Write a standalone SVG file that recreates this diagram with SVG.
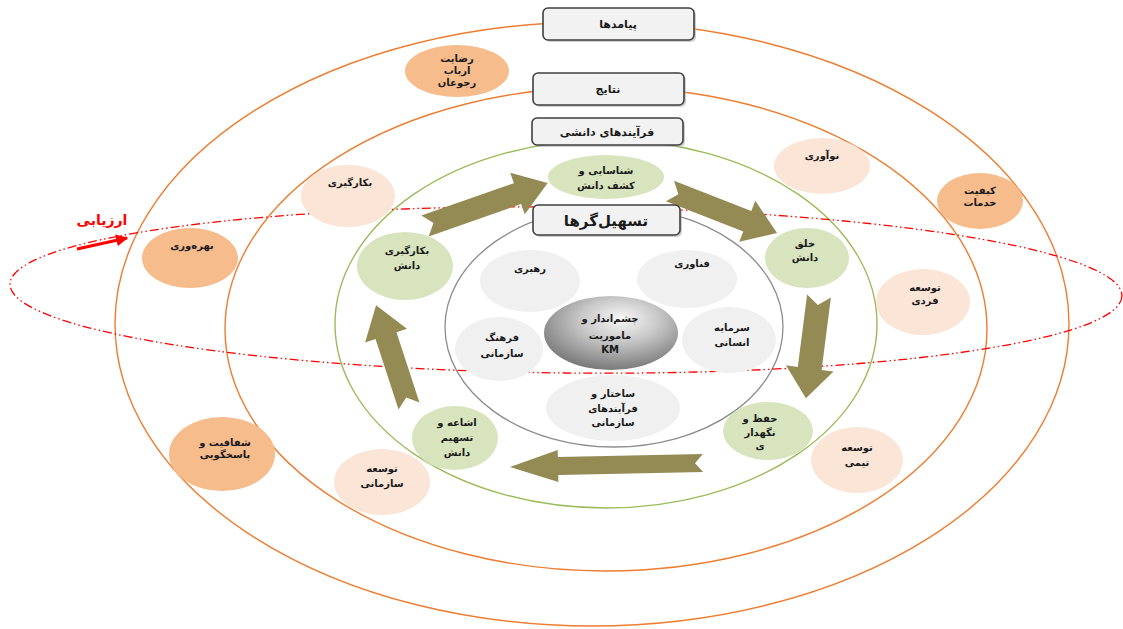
<svg xmlns="http://www.w3.org/2000/svg" width="1123" height="629" viewBox="0 0 1123 629">
<defs>
<style>
.ring-o{fill:none;stroke:#ED7D31;stroke-width:1.4}
.ring-g{fill:none;stroke:#9BBB59;stroke-width:1.4}
.ring-i{fill:none;stroke:#8c8c8c;stroke-width:1.3}
.eval{fill:none;stroke:#FF0000;stroke-width:1.3;stroke-dasharray:9 3 1.5 3 1.5 3}
.box{fill:#F2F2F2;stroke:#3f3f3f;stroke-width:1.6}
.shadow{fill:#b0b0b0;opacity:0.6}
.c-orange{fill:#F6BC8C}
.c-peach{fill:#FBE5D6}
.c-green{fill:#D7E4BD}
.c-gray{fill:#F0F0F0}
.arrow{fill:#948A54}
text{font-family:"DejaVu Sans",sans-serif;font-size:10px;font-weight:bold;fill:#1a1a1a;text-anchor:middle}
.t-box{font-size:11px}
.t-big{font-size:15px}
.t-red{fill:#FF0000;font-size:14px}
</style>
<radialGradient id="kmGrad" cx="0.55" cy="0.35" r="0.65" fx="0.58" fy="0.3">
<stop offset="0" stop-color="#f7f7f7"/>
<stop offset="0.45" stop-color="#c8c8c8"/>
<stop offset="1" stop-color="#7a7a7a"/>
</radialGradient>
<marker id="redHead" viewBox="0 0 10 10" refX="9" refY="5" markerWidth="4" markerHeight="4" orient="auto">
<path d="M0,0 L10,5 L0,10 Z" fill="#FF0000"/>
</marker>
</defs>
<rect width="1123" height="629" fill="#ffffff"/>

<g id="rings">
<ellipse class="ring-o" cx="592" cy="324" rx="477" ry="302"/>
<ellipse class="ring-o" cx="606" cy="329" rx="381" ry="242"/>
<ellipse class="ring-g" cx="606" cy="324" rx="271" ry="184"/>
<ellipse class="ring-i" cx="614" cy="327" rx="169" ry="120"/>
</g>

<g id="evaluation">
<ellipse class="eval" cx="566" cy="290" rx="556" ry="83" transform="rotate(0.6 566 290)"/>
</g>

<g id="connectors">
<path class="arrow" transform="translate(425,226) rotate(-19.3)" d="M0,-11 L98,-11 L98,-22 L130,0 L98,22 L98,11 L0,11 L9,0 Z"/>
<path class="arrow" transform="translate(670,191) rotate(21.4)" d="M0,-11 L83,-11 L83,-22 L115,0 L83,22 L83,11 L0,11 L9,0 Z"/>
<path class="arrow" transform="translate(819,296) rotate(97.3)" d="M0,-12 L73,-12 L73,-24 L103,0 L73,24 L73,12 L0,12 L9,0 Z"/>
<path class="arrow" transform="translate(703,463) rotate(178.8)" d="M0,-9 L145,-9 L145,-16 L193,0 L145,16 L145,9 L0,9 L8,0 Z"/>
<path class="arrow" transform="translate(409,406) rotate(-108.1)" d="M0,-11 L74,-11 L74,-22 L106,0 L74,22 L74,11 L0,11 L9,0 Z"/>
<line x1="77" y1="249" x2="127" y2="238" stroke="#FF0000" stroke-width="3" marker-end="url(#redHead)"/>
</g>

<g id="label-eval"><text class="t-red" x="102" y="225">ارزیابی</text></g>

<g id="box-payamad">
<rect class="shadow" x="545" y="10" width="151" height="32" rx="5"/>
<rect class="box" x="543" y="8" width="151" height="32" rx="5"/>
<text class="t-box" x="618" y="28">پیامدها</text>
</g>
<g id="box-natayej">
<rect class="shadow" x="535" y="75" width="151" height="32" rx="5"/>
<rect class="box" x="533" y="73" width="151" height="32" rx="5"/>
<text class="t-box" x="608" y="93">نتایج</text>
</g>
<g id="box-farayand">
<rect class="shadow" x="534" y="120" width="151" height="27" rx="5"/>
<rect class="box" x="532" y="118" width="151" height="27" rx="5"/>
<text class="t-box" x="607" y="136">فرآیندهای دانشی</text>
</g>
<g id="box-tashil">
<rect class="shadow" x="535" y="207" width="147" height="30" rx="5"/>
<rect class="box" x="533" y="205" width="147" height="30" rx="5"/>
<text class="t-big" x="606" y="226">تسهیل‌گرها</text>
</g>

<g id="n-rezayat"><ellipse class="c-orange" cx="457" cy="71" rx="52" ry="26"/>
<text x="457" y="62">رضایت</text><text x="457" y="74">ارباب</text><text x="457" y="86">رجوعان</text></g>
<g id="n-keyfiyat"><ellipse class="c-orange" cx="980" cy="201" rx="43" ry="28"/>
<text x="980" y="194">کیفیت</text><text x="980" y="206">خدمات</text></g>
<g id="n-bahrevari"><ellipse class="c-orange" cx="190" cy="258" rx="48" ry="30"/>
<text x="192" y="249">بهره‌وری</text></g>
<g id="n-shafafiyat"><ellipse class="c-orange" cx="222" cy="454" rx="53" ry="37"/>
<text x="225" y="446">شفافیت و</text><text x="225" y="458">پاسخگویی</text></g>

<g id="n-bekargiri-p"><ellipse class="c-peach" cx="348" cy="196" rx="47" ry="31"/>
<text x="350" y="186">بکارگیری</text></g>
<g id="n-noavari"><ellipse class="c-peach" cx="822" cy="166" rx="48" ry="28"/>
<text x="822" y="159">نوآوری</text></g>
<g id="n-fardi"><ellipse class="c-peach" cx="923" cy="302" rx="47" ry="33"/>
<text x="925" y="291">توسعه</text><text x="925" y="304">فردی</text></g>
<g id="n-teami"><ellipse class="c-peach" cx="857" cy="460" rx="46" ry="33"/>
<text x="857" y="451">توسعه</text><text x="857" y="466">تیمی</text></g>
<g id="n-sazmani-p"><ellipse class="c-peach" cx="382" cy="482" rx="48" ry="33"/>
<text x="382" y="472">توسعه</text><text x="382" y="487">سازمانی</text></g>

<g id="n-shenasayi"><ellipse class="c-green" cx="606" cy="177" rx="58" ry="22"/>
<text x="606" y="174">شناسایی و</text><text x="606" y="189">کشف دانش</text></g>
<g id="n-khalq"><ellipse class="c-green" cx="807" cy="258" rx="42" ry="30"/>
<text x="805" y="247">خلق</text><text x="805" y="261">دانش</text></g>
<g id="n-hefz"><ellipse class="c-green" cx="768" cy="431" rx="45" ry="29"/>
<text x="760" y="422">حفظ و</text><text x="760" y="436">نگهدار</text><text x="760" y="449">ی</text></g>
<g id="n-eshae"><ellipse class="c-green" cx="455" cy="438" rx="43" ry="32"/>
<text x="457" y="426">اشاعه و</text><text x="457" y="441">تسهیم</text><text x="457" y="456">دانش</text></g>
<g id="n-bekargiri-g"><ellipse class="c-green" cx="405" cy="266" rx="48" ry="34"/>
<text x="407" y="254">بکارگیری</text><text x="407" y="269">دانش</text></g>

<g id="n-rahbari"><ellipse class="c-gray" cx="530" cy="281" rx="50" ry="31"/>
<text x="530" y="272">رهبری</text></g>
<g id="n-fanavari"><ellipse class="c-gray" cx="687" cy="279" rx="50" ry="29"/>
<text x="692" y="267">فناوری</text></g>
<g id="n-sarmaye"><ellipse class="c-gray" cx="729" cy="340" rx="47" ry="33"/>
<text x="732" y="331">سرمایه</text><text x="732" y="346">انسانی</text></g>
<g id="n-farhang"><ellipse class="c-gray" cx="499" cy="349" rx="44" ry="32"/>
<text x="502" y="341">فرهنگ</text><text x="502" y="357">سازمانی</text></g>
<g id="n-sakhtar"><ellipse class="c-gray" cx="613" cy="408" rx="67" ry="33"/>
<text x="613" y="397">ساختار و</text><text x="613" y="412">فرآیندهای</text><text x="613" y="426">سازمانی</text></g>
<g id="n-km"><ellipse cx="611" cy="333" rx="67" ry="37" fill="url(#kmGrad)"/>
<text x="610" y="322">چشم‌انداز و</text><text x="610" y="339">ماموریت</text><text x="610" y="353">KM</text></g>
</svg>
